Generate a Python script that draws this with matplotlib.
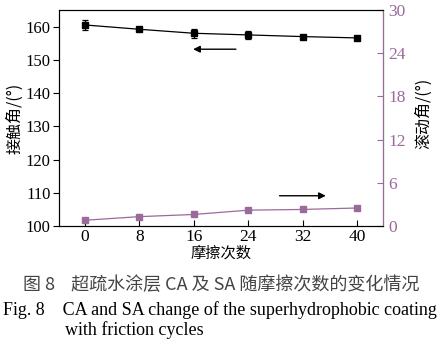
import matplotlib.pyplot as plt

# 数据
cycles = [0, 8, 16, 24, 32, 40]
ca = [160.5, 159.2, 158.0, 157.5, 157.0, 156.6]
ca_err = [1.4, 0.4, 1.3, 1.3, 0.6, 0.7]
sa = [0.8, 1.3, 1.6, 2.2, 2.3, 2.5]
left_ticks = [100, 110, 120, 130, 140, 150, 160]
right_ticks = [0, 6, 12, 18, 24, 30]

purple = '#9a6a9a'
serif = ['Liberation Serif', 'DejaVu Serif']
cjk = ['Noto Sans CJK SC', 'DejaVu Sans']

fig = plt.figure(figsize=(4.44, 3.44), dpi=100)
ax = fig.add_axes([59 / 444, 1 - 226 / 344, 324 / 444, 216 / 344])

ax.errorbar(cycles, ca, yerr=ca_err, color='black', marker='s', markersize=4,
            linewidth=0.9, elinewidth=0.9, capsize=2, capthick=0.9)
ax.set_xlim(-3.8, 43.8)
ax.set_ylim(100, 165)
ax.set_xticks(cycles)
ax.set_yticks(left_ticks)
ax.tick_params(axis='x', direction='in', length=4, labelsize=12.5, pad=2)
ax.tick_params(axis='y', direction='out', length=4, labelsize=12, pad=2)
for lab in ax.get_xticklabels() + ax.get_yticklabels():
    lab.set_family(serif)
ax.set_ylabel('接触角/(°)', family=cjk, fontsize=11.5)
ax.yaxis.set_label_coords(-0.11, 0.5)
ax.set_xlabel('摩擦次数', family=cjk, fontsize=11, labelpad=0)

ax2 = ax.twinx()
ax2.plot(cycles, sa, color=purple, marker='s', markersize=4, linewidth=0.9)
ax2.set_ylim(0, 30)
ax2.set_yticks(right_ticks)
ax2.tick_params(axis='y', direction='in', length=4, labelsize=12.5, pad=4,
                colors=purple)
for lab in ax2.get_yticklabels():
    lab.set_family(serif)
ax2.set_ylabel('滚动角/(°)', family=cjk, fontsize=11.5)
ax2.yaxis.set_label_coords(1.10, 0.52)
ax2.spines['right'].set_color(purple)

# 箭头
ax.annotate('', xy=(15.5, 153.2), xytext=(22.6, 153.2),
            arrowprops=dict(arrowstyle='-|>', color='black', lw=1,
                            mutation_scale=10))
ax2.annotate('', xy=(35.8, 4.2), xytext=(28.2, 4.2),
             arrowprops=dict(arrowstyle='-|>', color='black', lw=1,
                             mutation_scale=10))

# 图注
fig.text(221 / 444, 1 - 285 / 344, '图 8    超疏水涂层 CA 及 SA 随摩擦次数的变化情况',
         ha='center', va='center', fontsize=13, color='#444444',
         family=['Noto Sans CJK SC', 'Liberation Serif'])
fig.text(3 / 444, 1 - 310 / 344,
         'Fig. 8    CA and SA change of the superhydrophobic coating',
         ha='left', va='center', fontsize=13, family=serif)
fig.text(65 / 444, 1 - 330 / 344, 'with friction cycles',
         ha='left', va='center', fontsize=13, family=serif)

fig.savefig('out.png', dpi=100)
